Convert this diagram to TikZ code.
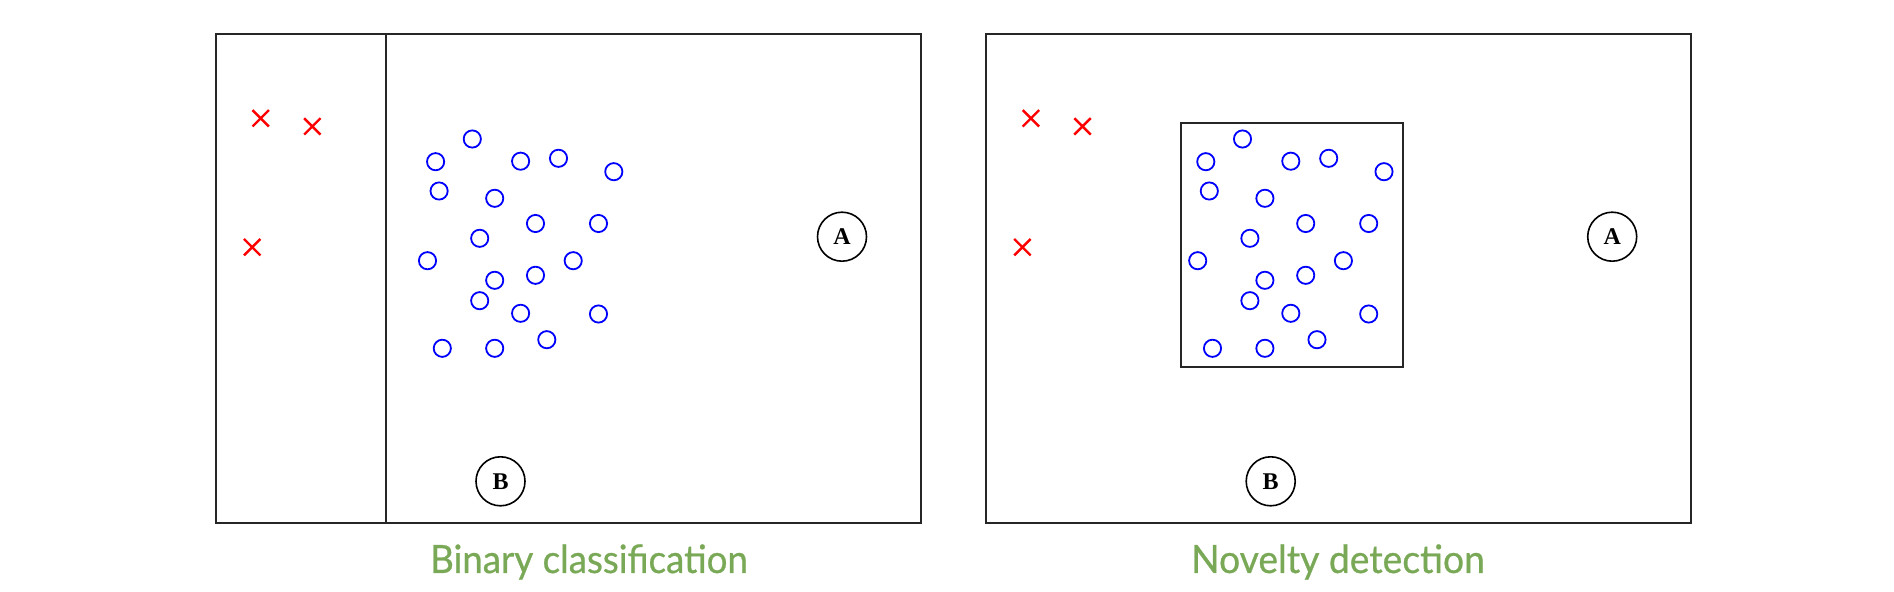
\documentclass[tikz,border=0pt]{standalone}
\usepackage{fontspec}
\setmainfont{Liberation Serif}
\newfontfamily\titlefont{Lato}[FakeBold=0.7]
\usetikzlibrary{shapes.misc}
\definecolor{titlegreen}{RGB}{121,169,86}
\tikzset{
  panelline/.style={draw=black!85, line width=1pt},
  posdot/.style={circle, draw=blue, line width=0.9pt, minimum size=8.6pt, inner sep=0pt},
  negdot/.style={cross out, draw=red, line width=1.2pt, minimum size=7pt, inner sep=0pt},
  querynode/.style={circle, draw=black, line width=0.8pt, minimum size=24.5pt, inner sep=0pt, font=\bfseries\fontsize{12}{12}\selectfont},
  captiontext/.style={text=titlegreen, font=\titlefont\fontsize{19.5}{20}\selectfont, anchor=base}
}
\begin{document}
\begin{tikzpicture}[x=0.5pt, y=-0.5pt]
\useasboundingbox (0,0) rectangle (1894,592);
% left panel
\draw[panelline] (215.5,34) rectangle (921,523.3);
\draw[panelline] (386,34) -- (386,523.3);
% right panel
\draw[panelline] (985.7,34) rectangle (1691.3,523.3);
\draw[panelline] (1180.5,123.3) rectangle (1403,367.5);
\foreach \p/\dx in {L/0, R/770.2}{
  \node[negdot] (\p x1) at (260.7+\dx,118.3) {};
  \node[negdot] (\p x2) at (312.3+\dx,126.4) {};
  \node[negdot] (\p x3) at (252.2+\dx,247.2) {};
  \foreach \i/\cx/\cy in {1/472.3/139,2/435.6/161.7,3/520.6/161.2,4/558.5/158.3,5/613.8/171.7,
      6/439.1/191,7/494.7/198.3,8/535.5/223.5,9/598.5/223.5,10/479.7/238.3,
      11/427.5/260.7,12/573.2/260.7,13/494.7/280.3,14/535.5/275.3,15/479.7/300.7,
      16/520.6/313.3,17/598.5/314,18/442.3/348.3,19/494.7/348.3,20/546.8/339.7}{
    \node[posdot] (\p o\i) at (\cx+\dx,\cy) {};
  }
  \node[querynode] (\p A) at (842+\dx,236.7) {A};
  \node[querynode] (\p B) at (500.5+\dx,481.3) {B};
}
\node[captiontext] (t1) at (589,573) {\scalebox{0.94}[1]{Binary classification}};
\node[captiontext] (t2) at (1338,573) {\scalebox{0.955}[1]{Novelty detection}};
\end{tikzpicture}
\end{document}
